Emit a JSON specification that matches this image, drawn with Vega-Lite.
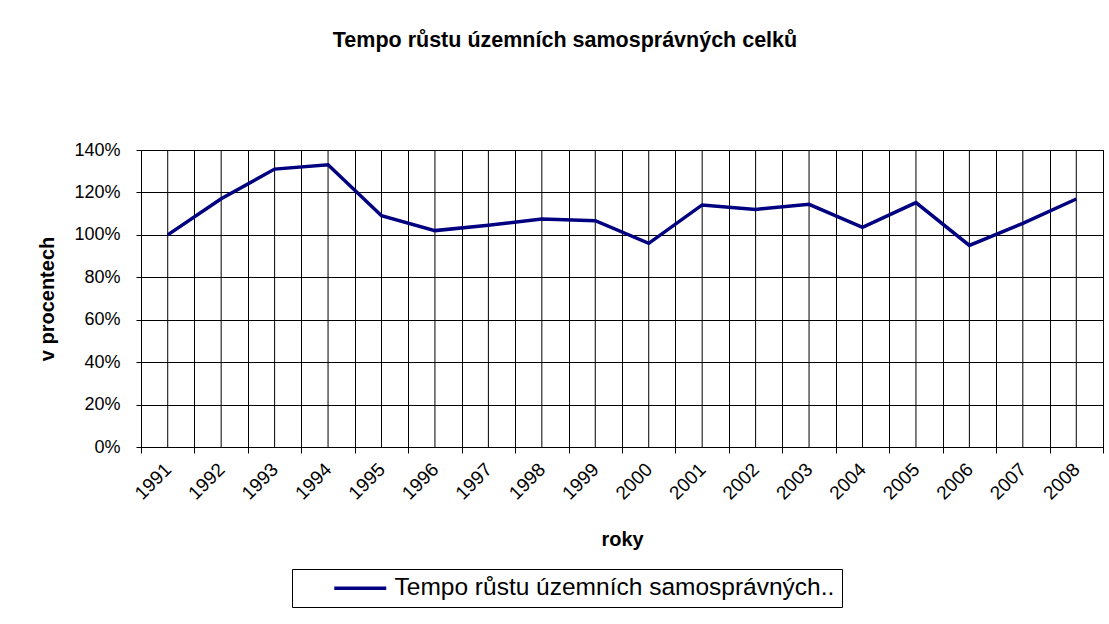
{
  "$schema": "https://vega.github.io/schema/vega-lite/v6.json",
  "width": 962,
  "height": 297,
  "autosize": {"type": "none"},
  "padding": {"left": 141, "top": 150, "right": 6, "bottom": 177},
  "background": "white",
  "title": {
    "text": "Tempo růstu územních samosprávných celků",
    "font": "Liberation Sans",
    "fontSize": 21.5,
    "fontWeight": "bold",
    "color": "black",
    "anchor": "middle",
    "dx": -57,
    "offset": 90
  },
  "data": {
    "values": [
      {"rok": "1991", "hodnota": 1.00, "serie": "Tempo růstu územních samosprávných.."},
      {"rok": "1992", "hodnota": 1.17, "serie": "Tempo růstu územních samosprávných.."},
      {"rok": "1993", "hodnota": 1.31, "serie": "Tempo růstu územních samosprávných.."},
      {"rok": "1994", "hodnota": 1.33, "serie": "Tempo růstu územních samosprávných.."},
      {"rok": "1995", "hodnota": 1.09, "serie": "Tempo růstu územních samosprávných.."},
      {"rok": "1996", "hodnota": 1.02, "serie": "Tempo růstu územních samosprávných.."},
      {"rok": "1997", "hodnota": 1.045, "serie": "Tempo růstu územních samosprávných.."},
      {"rok": "1998", "hodnota": 1.075, "serie": "Tempo růstu územních samosprávných.."},
      {"rok": "1999", "hodnota": 1.067, "serie": "Tempo růstu územních samosprávných.."},
      {"rok": "2000", "hodnota": 0.96, "serie": "Tempo růstu územních samosprávných.."},
      {"rok": "2001", "hodnota": 1.141, "serie": "Tempo růstu územních samosprávných.."},
      {"rok": "2002", "hodnota": 1.12, "serie": "Tempo růstu územních samosprávných.."},
      {"rok": "2003", "hodnota": 1.144, "serie": "Tempo růstu územních samosprávných.."},
      {"rok": "2004", "hodnota": 1.035, "serie": "Tempo růstu územních samosprávných.."},
      {"rok": "2005", "hodnota": 1.152, "serie": "Tempo růstu územních samosprávných.."},
      {"rok": "2006", "hodnota": 0.95, "serie": "Tempo růstu územních samosprávných.."},
      {"rok": "2007", "hodnota": 1.054, "serie": "Tempo růstu územních samosprávných.."},
      {"rok": "2008", "hodnota": 1.169, "serie": "Tempo růstu územních samosprávných.."}
    ]
  },
  "config": {
    "view": {"stroke": "black", "strokeWidth": 1},
    "axis": {
      "labelFont": "Liberation Sans",
      "titleFont": "Liberation Sans",
      "labelColor": "black",
      "titleColor": "black",
      "domainColor": "black",
      "tickColor": "black",
      "gridColor": "black",
      "gridOpacity": 1,
      "labelFontSize": 19,
      "titleFontSize": 20,
      "titleFontWeight": "bold"
    },
    "legend": {
      "labelFont": "Liberation Sans",
      "labelFontSize": 24.5,
      "labelColor": "black",
      "labelLimit": 900
    }
  },
  "layer": [
    {
      "mark": {"type": "rule", "color": "black", "strokeWidth": 1},
      "encoding": {
        "x": {"field": "rok", "type": "ordinal", "bandPosition": 0.5}
      }
    },
    {
      "mark": {"type": "line", "strokeWidth": 3.5},
      "encoding": {
        "x": {
          "field": "rok",
          "type": "ordinal",
          "bandPosition": 0.5,
          "scale": {"type": "band", "paddingInner": 0, "paddingOuter": 0},
          "axis": {
            "title": "roky",
            "tickBand": "extent",
            "grid": true,
            "labelAngle": -45,
            "tickSize": 6,
            "labelPadding": 13,
            "titlePadding": 27
          }
        },
        "y": {
          "field": "hodnota",
          "type": "quantitative",
          "scale": {"domain": [0, 1.4], "nice": false},
          "axis": {
            "title": "v procentech",
            "values": [0, 0.2, 0.4, 0.6, 0.8, 1.0, 1.2, 1.4],
            "format": ".0%",
            "grid": true,
            "tickSize": 5,
            "labelFontSize": 18,
            "labelPadding": 16,
            "titlePadding": 16
          }
        },
        "color": {
          "field": "serie",
          "type": "nominal",
          "scale": {"range": ["#000080"]},
          "legend": {
            "title": null,
            "orient": "none",
            "legendX": 151,
            "legendY": 419,
            "strokeColor": "black",
            "fillColor": "white",
            "padding": 7,
            "symbolType": "M-13,0H13",
            "symbolSize": 16,
            "symbolStrokeWidth": 3.5,
            "symbolOffset": 49,
            "labelOffset": 22
          }
        }
      }
    }
  ]
}
